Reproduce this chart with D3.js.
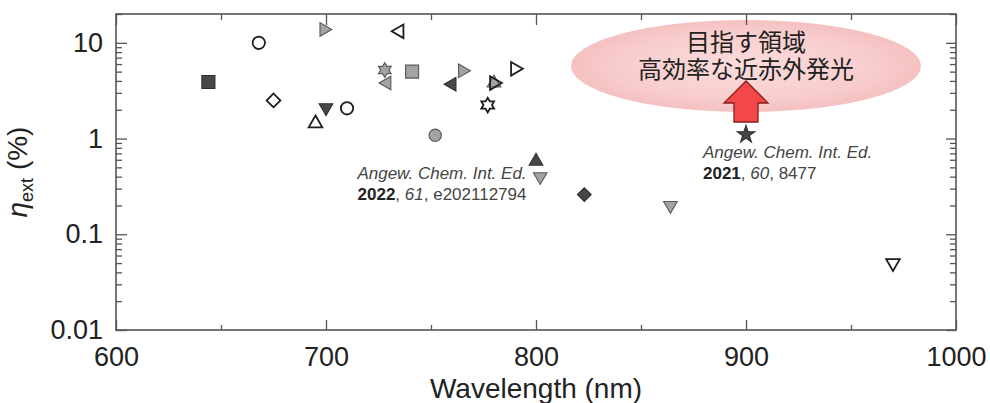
<!DOCTYPE html>
<html>
<head>
<meta charset="utf-8">
<script src="https://cdn.jsdelivr.net/npm/d3@7"></script>
<style>
  body { margin: 0; background: #fff; }
  text { font-family: "Liberation Sans", Arial, sans-serif; }
</style>
</head>
<body>
<svg id="chart"></svg>
<script>
// data: emission wavelength (nm) and external quantum efficiency (%)
var wavelength = [644, 668, 675, 695, 700, 710, 699, 735, 728, 729, 741, 765, 760, 777, 780, 780, 790, 752, 800, 802, 823, 864, 970, 900];
var etaExt     = [3.9, 10, 2.5, 1.44, 2.1, 2.07, 13.8, 13.2, 5.2, 3.8, 5.0, 5.1, 3.7, 2.24, 3.8, 3.8, 5.35, 1.08, 0.58, 0.40, 0.26, 0.20, 0.05, 1.1];

// marker per point (shape / tone), kept apart from the values
var markerShape = ["square", "circle", "diamond", "up", "down", "circle", "right", "left", "hexagram", "left", "square", "right", "left", "hexagram", "up", "right", "right", "circle", "up", "down", "diamond", "down", "down", "star"];
var markerTone  = ["dark", "open", "open", "open", "dark", "open", "gray", "open", "gray", "gray", "gray", "gray", "dark", "open", "gray", "open", "open", "gray", "dark", "gray", "dark", "gray", "open", "dark"];

var xTicks = [600, 700, 800, 900, 1000];
var yTicks = [0.01, 0.1, 1, 10];
var yTickLabels = ["0.01", "0.1", "1", "10"];

var refA = ["Angew. Chem. Int. Ed.", "2022", ", 61, e202112794"];
var refB = ["Angew. Chem. Int. Ed.", "2021", ", 60, 8477"];
var goalText = ["目指す領域", "高効率な近赤外発光"];

// set the dimensions and margins of the graph
var W = 990, H = 403;
var margin = {top: 14, right: 34, bottom: 73, left: 116},
    width = W - margin.left - margin.right,
    height = H - margin.top - margin.bottom;

var svg = d3.select("#chart").attr("width", W).attr("height", H);
var g = svg.append("g").attr("transform", "translate(" + margin.left + "," + margin.top + ")");

var x = d3.scaleLinear().domain([600, 1000]).range([0, width]);
var y = d3.scaleLog().domain([0.01, 20]).range([height, 0]);

var axisColor = "#555";

// minor ticks for the log axis
var minorY = [];
[0.01, 0.1, 1, 10].forEach(function(dec) {
  for (var k = 2; k <= 9; k++) {
    if (dec * k <= 20) minorY.push(dec * k);
  }
});
var minorX = [650, 750, 850, 950];

function styleAxis(sel) {
  sel.select(".domain").remove();
  sel.selectAll("line").attr("stroke", axisColor).attr("stroke-width", 1.3);
  sel.selectAll("text").attr("fill", "#222");
}

// pink target region, lighter in the middle
var grad = svg.append("defs").append("radialGradient").attr("id", "goalFill");
grad.append("stop").attr("offset", "0%").attr("stop-color", "#fbdcdc");
grad.append("stop").attr("offset", "75%").attr("stop-color", "#f8cccc");
grad.append("stop").attr("offset", "100%").attr("stop-color", "#f5c0c0");

g.append("ellipse")
  .attr("cx", x(900)).attr("cy", 52)
  .attr("rx", 175).attr("ry", 46)
  .attr("fill", "url(#goalFill)");

// two lines in one text element
var goal = g.append("text")
  .attr("text-anchor", "middle")
  .style("font-family", "'Noto Sans CJK JP', sans-serif")
  .style("font-size", "24px")
  .attr("fill", "#222");
goalText.forEach(function(t, i) {
  goal.append("tspan")
    .attr("x", x(900)).attr("y", 37 + i * 27)
    .text(t);
});

// red arrow pointing up to the region
var ax = x(900);
var arrowPts = [[ax, 67], [ax + 22, 89], [ax + 12, 89], [ax + 12, 108], [ax - 12, 108], [ax - 12, 89], [ax - 22, 89]];
g.append("path")
  .attr("d", d3.line()(arrowPts) + "Z")
  .attr("fill", "#f24848")
  .attr("stroke", "#8a1c1c")
  .attr("stroke-width", 1.3);

// minor and major ticks, all pointing inside
g.append("g").call(d3.axisLeft(y).tickValues(minorY).tickSize(-6).tickFormat("")).call(styleAxis);
g.append("g").attr("transform", "translate(" + width + ",0)")
  .call(d3.axisRight(y).tickValues(minorY).tickSize(-6).tickFormat("")).call(styleAxis);
g.append("g").attr("transform", "translate(0," + height + ")")
  .call(d3.axisBottom(x).tickValues(minorX).tickSize(-5).tickFormat("")).call(styleAxis);
g.append("g")
  .call(d3.axisTop(x).tickValues(minorX).tickSize(-6).tickFormat("")).call(styleAxis);

g.append("g")
  .call(d3.axisLeft(y).tickValues(yTicks).tickSize(-11).tickPadding(13)
    .tickFormat(function(d, i) { return yTickLabels[i]; }))
  .call(styleAxis)
  .selectAll("text").style("font-size", "27px");
g.append("g").attr("transform", "translate(" + width + ",0)")
  .call(d3.axisRight(y).tickValues(yTicks).tickSize(-10).tickFormat("")).call(styleAxis);
g.append("g").attr("transform", "translate(0," + height + ")")
  .call(d3.axisBottom(x).tickValues(xTicks).tickSize(-10).tickPadding(17).tickFormat(d3.format("d")))
  .call(styleAxis)
  .selectAll("text").style("font-size", "27px");
g.append("g")
  .call(d3.axisTop(x).tickValues(xTicks).tickSize(-11).tickFormat("")).call(styleAxis);

// frame
g.append("rect")
  .attr("width", width).attr("height", height)
  .attr("fill", "none").attr("stroke", axisColor).attr("stroke-width", 1.6);

// custom symbols
var symbolHexagram = {
  draw: function(ctx, size) {
    var r = Math.sqrt(size / 1.3);
    var ri = r / Math.sqrt(3);
    for (var k = 0; k < 12; k++) {
      var a = -Math.PI / 2 + k * Math.PI / 6;
      var rr = k % 2 === 0 ? r : ri;
      if (k === 0) ctx.moveTo(rr * Math.cos(a), rr * Math.sin(a));
      else ctx.lineTo(rr * Math.cos(a), rr * Math.sin(a));
    }
    ctx.closePath();
  }
};

var shapeDef = {
  square:   {type: d3.symbolSquare, size: 170, rot: 0},
  circle:   {type: d3.symbolCircle, size: 120, rot: 0},
  diamond:  {type: d3.symbolSquare, size: 95, rot: 45},
  up:       {type: d3.symbolTriangle, size: 80, rot: 0},
  down:     {type: d3.symbolTriangle, size: 80, rot: 180},
  right:    {type: d3.symbolTriangle, size: 80, rot: 90},
  left:     {type: d3.symbolTriangle, size: 80, rot: -90},
  hexagram: {type: symbolHexagram, size: 70, rot: 0},
  star:     {type: d3.symbolStar, size: 95, rot: 0}
};
var toneDef = {
  dark: {fill: "#474747", stroke: "#2e2e2e"},
  gray: {fill: "#a3a3a3", stroke: "#585858"},
  open: {fill: "#ffffff", stroke: "#1e1e1e"}
};

var points = wavelength.map(function(w, i) {
  return {w: w, v: etaExt[i], shape: markerShape[i], tone: markerTone[i]};
});

g.selectAll("path.pt")
  .data(points)
  .enter().append("path")
  .attr("class", "pt")
  .attr("d", function(d) { return d3.symbol().type(shapeDef[d.shape].type).size(shapeDef[d.shape].size)(); })
  .attr("transform", function(d) {
    return "translate(" + x(d.w) + "," + y(d.v) + ") rotate(" + shapeDef[d.shape].rot + ")";
  })
  .attr("fill", function(d) { return d.tone === "open" ? "none" : toneDef[d.tone].fill; })
  .attr("stroke", function(d) { return toneDef[d.tone].stroke; })
  .attr("stroke-width", function(d) { return d.tone === "open" ? 1.8 : 1.1; });

// literature annotations
function addRef(ref, tx, ty, anchor) {
  g.append("text")
    .attr("x", tx).attr("y", ty)
    .attr("text-anchor", anchor)
    .style("font-size", "17px").style("font-style", "italic")
    .attr("fill", "#444")
    .text(ref[0]);
  var parts = ref[2].split(",");
  var t2 = g.append("text")
    .attr("x", tx).attr("y", ty + 21)
    .attr("text-anchor", anchor)
    .style("font-size", "17px")
    .attr("fill", "#444");
  t2.append("tspan").style("font-weight", "bold").attr("fill", "#222").text(ref[1]);
  t2.append("tspan").text(", ");
  t2.append("tspan").style("font-style", "italic").text(parts[1].trim());
  t2.append("tspan").text(", " + parts[2].trim());
}
addRef(refA, 442 - margin.left, 179 - margin.top, "middle");
addRef(refB, 703 - margin.left, 158 - margin.top, "start");

// axis titles
svg.append("text")
  .attr("x", margin.left + x(800)).attr("y", 398)
  .attr("text-anchor", "middle")
  .style("font-size", "28px")
  .attr("fill", "#222")
  .text("Wavelength (nm)");

var yl = svg.append("text")
  .attr("transform", "translate(27,172) rotate(-90)")
  .attr("text-anchor", "middle")
  .style("font-size", "28px")
  .attr("fill", "#222");
yl.append("tspan").style("font-style", "italic").text("η");
yl.append("tspan").attr("dy", 6).style("font-size", "18px").text("ext");
yl.append("tspan").attr("dy", -6).text(" (%)");
</script>
</body>
</html>
